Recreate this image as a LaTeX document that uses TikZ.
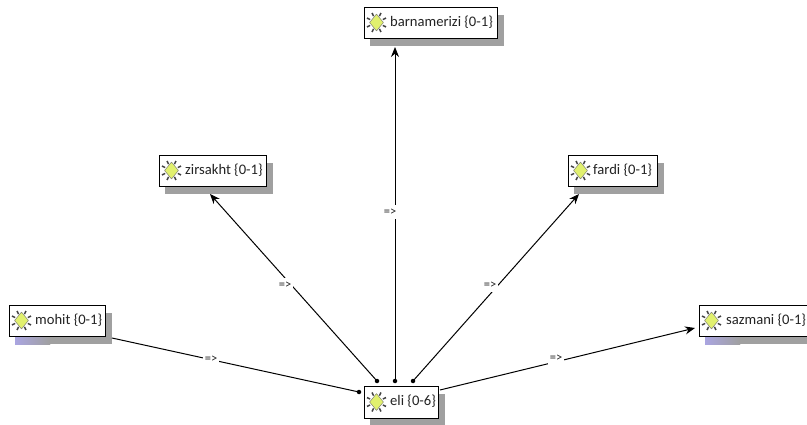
\documentclass[tikz,border=0pt]{standalone}
\usepackage{fontspec}
\setmainfont{Carlito}
\usetikzlibrary{arrows.meta,shapes.geometric,calc}
\definecolor{shade}{RGB}{160,160,160}
\definecolor{tint}{RGB}{170,165,225}
\definecolor{bugfill}{RGB}{225,240,110}
\definecolor{labelc}{RGB}{35,35,35}
\tikzset{
  x=1pt,y=-1pt,
  boxnode/.style={draw=black,fill=white,line width=1pt,inner sep=0pt,anchor=north west},
  plainshadow/.style={fill=shade},
  names/.style={font=\fontsize{14.6}{16}\selectfont,text=labelc,anchor=west,inner sep=0pt},
  bug/.style={diamond,fill=bugfill,draw=black!55,line width=0.4pt,minimum width=14pt,minimum height=17pt,inner sep=0pt},
  legs/.style={draw=black!75,line width=1.5pt},
  link/.style={draw=black,line width=1pt,-{Stealth[length=10pt,width=8pt]}},
  plainline/.style={draw=black,line width=1pt},
  startdot/.style={circle,fill=black,inner sep=0pt,minimum size=4.5pt},
  implies/.style={font=\fontsize{12.5}{13}\selectfont,text=labelc,fill=white,inner xsep=2pt,inner ysep=4pt}
}
\newcommand{\concept}[7]{% name, x1,y1,x2,y2, label, text offset
  \path[plainshadow] (#2+6,#3+8) rectangle (#4+7,#5+8);
  \node[boxnode,minimum width=#4pt-#2pt,minimum height=#5pt-#3pt] (#1) at (#2,#3) {};
  \node[bug] (#1bug) at (#2+12.5,{(#3+#5)/2}) {};
  \foreach \ang in {25,65,115,155,205,245,295,335}{
    \draw[legs] (#1bug.center) ++(\ang:7pt) -- ++(\ang:3.5pt);
  }
  \node[names] (#1txt) at (#2+#7,{(#3+#5)/2-0.5}) {#6};
}
\begin{document}
\begin{tikzpicture}
\useasboundingbox (0,0) rectangle (807,425);
\path[left color=tint,right color=shade] (15,337) rectangle (50,344);
\path[left color=tint,right color=shade] (705,337) rectangle (740,344);
\concept{barnamerizi}{364}{7}{497}{38}{barnamerizi \{0-1\}}{26}
\concept{zirsakht}{159}{155}{266}{186}{zirsakht \{0-1\}}{26}
\concept{fardi}{568}{155}{657}{186}{fardi \{0-1\}}{25}
\concept{mohit}{9}{305}{105}{336}{mohit \{0-1\}}{26}
\concept{sazmani}{699}{305}{808}{336}{sazmani \{0-1\}}{27}
\concept{eli}{364}{386}{438}{418}{eli \{0-6\}}{26}
\path[left color=tint,right color=shade] (15,337) rectangle (50,344);
\path[left color=tint,right color=shade] (705,337) rectangle (740,344);
\node[startdot] (d1) at (395,381) {};
\node[startdot] (d2) at (377,381) {};
\node[startdot] (d3) at (413,381) {};
\node[startdot] (d4) at (359,392) {};
\coordinate (t1) at (395,47);
\coordinate (t2) at (210,194);
\coordinate (t3) at (579,194);
\coordinate (m) at (112,338);
\coordinate (s) at (440,390);
\coordinate (t5) at (695,328);
\draw[link] (d1.center) -- (t1);
\draw[link] (d2.center) -- (t2);
\draw[link] (d3.center) -- (t3);
\draw[plainline] (m) -- (d4.center);
\draw[link] (s) -- (t5);
\node[implies] (l1) at (390,212) {=>};
\node[implies] (l2) at (285,285) {=>};
\node[implies] (l3) at (490,285) {=>};
\node[implies] (l4) at (211,359) {=>};
\node[implies] (l5) at (556,358) {=>};
\end{tikzpicture}
\end{document}
